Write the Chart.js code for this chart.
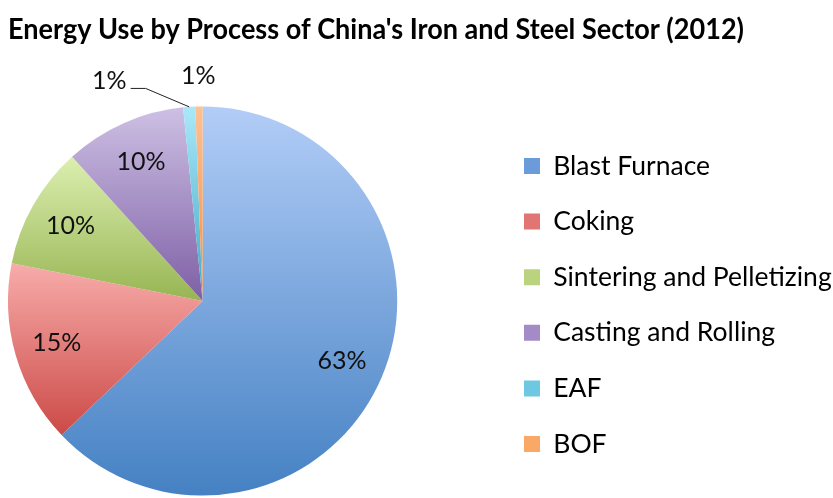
<!DOCTYPE html>
<html>
<head>
<meta charset="utf-8">
<script src="https://cdn.jsdelivr.net/npm/chart.js@4.4.1/dist/chart.umd.min.js"></script>
<style>
  html,body{margin:0;padding:0;background:#fff;}
  #wrap{width:833px;height:498px;}
</style>
</head>
<body>
<div id="wrap"><canvas id="pie" width="833" height="498"></canvas></div>
<script>
const TITLE = "Energy Use by Process of China's Iron and Steel Sector (2012)";
const processes = ['Blast Furnace','Coking','Sintering and Pelletizing','Casting and Rolling','EAF','BOF'];
const shares = [62.9, 15.2, 10.2, 10.1, 1.0, 0.6];

// light top -> dark bottom, like the office gradient fill
const topColors = ['#b2cdf7','#f7acaa','#dcefb0','#cdc0e4','#aae8f9','#fdc194'];
const bottomColors = ['#4581c3','#cc4a47','#97b553','#7e5fa5','#41a7c5','#f58e3d'];
const legendColors = ['#6c9bd9','#e07573','#b9d37f','#a28bc6','#6fc8e1','#f9a866'];

const LEGEND_BOX_X = 524;

function sliceGradient(c){
  const chart = c.chart, area = chart.chartArea, i = c.dataIndex;
  if(!area) return legendColors[i];
  const vals = c.dataset.data;
  const total = vals.reduce((a,b)=>a+b,0);
  const cx = (area.left+area.right)/2, cy = (area.top+area.bottom)/2;
  const r = Math.min(area.width, area.height)/2;
  let before = 0;
  for(let k=0;k<i;k++) before += vals[k];
  const a0 = -Math.PI/2 + before/total*2*Math.PI;
  const a1 = a0 + vals[i]/total*2*Math.PI;
  const ys = [cy, cy + r*Math.sin(a0), cy + r*Math.sin(a1)];
  for(const t of [-Math.PI/2, Math.PI/2, 3*Math.PI/2]){
    if(t>=a0 && t<=a1) ys.push(cy + r*Math.sin(t));
  }
  const g = chart.ctx.createLinearGradient(0, Math.min(...ys), 0, Math.max(...ys));
  g.addColorStop(0, topColors[i]);
  g.addColorStop(1, bottomColors[i]);
  return g;
}

// move the legend over to the right edge (Excel keeps a wide gap)
const legendPlacer = {
  id: 'legendPlacer',
  afterLayout(chart){
    const lg = chart.legend;
    if(!lg) return;
    const pad = lg.options.labels.padding;
    const dx = LEGEND_BOX_X - pad - lg.left;
    lg.left += dx; lg.right += dx;
    lg.top += 4; lg.bottom += 4;
  }
};

// percent labels, inside for big slices, outside (with leader) for tiny ones
const sliceLabels = {
  id: 'sliceLabels',
  afterDatasetsDraw(chart){
    const meta = chart.getDatasetMeta(0);
    const vals = chart.data.datasets[0].data;
    const total = vals.reduce((a,b)=>a+b,0);
    const ctx = chart.ctx;
    ctx.save();
    ctx.font = '25px Lato';
    ctx.fillStyle = '#111';
    ctx.textAlign = 'center';
    ctx.textBaseline = 'middle';
    let placed = null;
    for(let i=meta.data.length-1;i>=0;i--){
      const arc = meta.data[i];
      const mid = (arc.startAngle+arc.endAngle)/2;
      const txt = Math.round(vals[i]/total*100)+'%';
      const R = arc.outerRadius;
      if(vals[i]/total >= 0.05){
        const r = R*0.78;
        ctx.fillText(txt, arc.x + r*Math.cos(mid), arc.y + r*Math.sin(mid));
        continue;
      }
      let x = arc.x + (R+30)*Math.cos(mid);
      let y = arc.y + (R+30)*Math.sin(mid);
      if(placed && Math.abs(placed.x-x) < 50){
        x = placed.x - 89;
        y = placed.y + 5;
        const w = ctx.measureText(txt).width;
        ctx.strokeStyle = '#222';
        ctx.lineWidth = 1;
        ctx.beginPath();
        ctx.moveTo(x + w/2 + 4, y + 7);
        ctx.lineTo(x + w/2 + 19, y + 7);
        ctx.lineTo(arc.x + R*Math.cos(mid), arc.y + R*Math.sin(mid));
        ctx.stroke();
      }
      ctx.fillText(txt, x, y);
      placed = {x, y};
    }
    ctx.restore();
  }
};

Chart.defaults.font.family = 'Lato';
Chart.defaults.color = '#111';

new Chart(document.getElementById('pie'), {
  type: 'pie',
  data: {
    labels: processes,
    datasets: [{
      data: shares,
      backgroundColor: sliceGradient,
      borderWidth: 0
    }]
  },
  options: {
    responsive: false,
    animation: false,
    layout: { padding: { left: 8, right: 89, bottom: 2, top: 0 } },
    plugins: {
      title: {
        display: true,
        text: TITLE,
        align: 'start',
        color: '#000',
        font: { size: 29, weight: 'bold' },
        padding: { top: 12.6, bottom: 58.6 }
      },
      legend: {
        position: 'right',
        fullSize: false,
        labels: {
          boxWidth: 16,
          boxHeight: 16,
          padding: 29.1,
          color: '#111',
          font: { size: 26.5 },
          generateLabels(chart){
            return chart.data.labels.map((text,i)=>({
              text, fillStyle: legendColors[i], strokeStyle: legendColors[i],
              lineWidth: 0, hidden: false, index: i
            }));
          }
        }
      },
      tooltip: { enabled: false }
    }
  },
  plugins: [legendPlacer, sliceLabels]
});
</script>
</body>
</html>
